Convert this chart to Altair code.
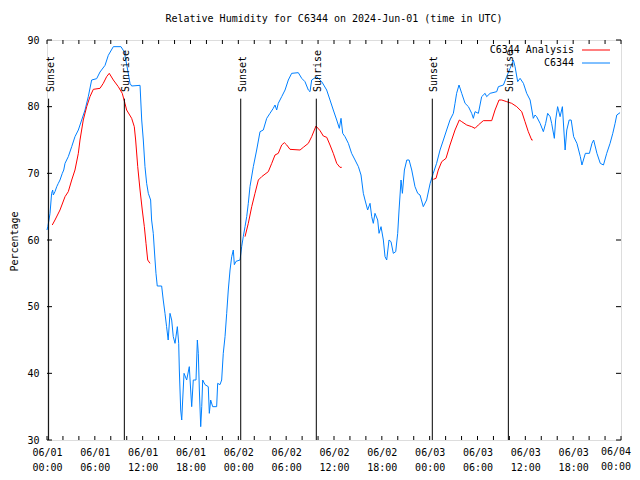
import altair as alt
import pandas as pd

# ---------------- data (hours since 2024-06-01 00:00 UTC) ----------------
obs_hours = [0.0, 0.1, 0.25, 0.38, 0.58, 0.71, 0.79, 1.0, 1.22, 1.42, 1.63, 1.92, 2.1, 2.26, 2.67, 3.1, 3.51, 3.93, 4.35, 4.77,
             5.18, 5.6, 6.23, 6.65, 7.28, 7.69, 8.32, 9.28, 9.7, 10.12, 10.41, 10.62, 11.67, 11.88, 12.08, 12.29, 12.5, 12.71, 13.0, 13.12,
             13.33, 13.55, 13.67, 13.83, 14.38, 14.58, 14.8, 15.0, 15.2, 15.43, 15.64, 15.84, 16.06, 16.35, 16.52, 16.6, 16.77, 16.9, 17.02, 17.19,
             17.52, 17.85, 18.02, 18.15, 18.35, 18.69, 18.86, 18.98, 19.11, 19.28, 19.41, 19.53, 19.82, 20.23, 20.36, 20.53, 20.78, 21.28, 21.41, 21.7,
             21.91, 22.11, 22.33, 22.54, 22.74, 22.96, 23.17, 23.37, 23.5, 23.71, 24.21, 24.42, 24.62, 24.84, 25.05, 25.25, 25.46, 25.88, 26.3, 26.72,
             27.13, 27.56, 27.97, 28.38, 28.6, 28.81, 29.01, 29.44, 29.86, 30.27, 30.69, 31.52, 31.95, 32.36, 32.78, 32.99, 33.2, 33.83, 34.46, 35.08,
             35.5, 35.91, 36.34, 36.67, 36.88, 37.09, 37.38, 37.8, 38.21, 38.64, 39.06, 39.39, 39.68, 39.89, 40.22, 40.52, 40.73, 40.93, 41.14, 41.48,
             41.65, 41.9, 42.19, 42.4, 42.61, 42.9, 43.15, 43.44, 43.74, 43.99, 44.16, 44.41, 44.58, 44.83, 45.13, 45.42, 45.75, 46.16, 46.5, 46.79,
             47.2, 47.62, 48.06, 48.45, 48.87, 49.3, 49.72, 50.13, 50.55, 50.97, 51.18, 51.38, 51.68, 52.02, 52.44, 52.86, 53.27, 53.48, 53.69, 54.11,
             54.52, 54.95, 55.15, 55.58, 56.41, 56.62, 57.25, 57.66, 58.09, 58.5, 58.71, 59.04, 59.34, 59.76, 60.17, 60.6, 61.0, 61.22, 61.42, 61.85,
             62.26, 62.55, 62.8, 63.11, 63.3, 63.64, 63.8, 64.05, 64.36, 64.65, 64.99, 65.2, 65.5, 65.75, 66.06, 66.47, 66.9, 67.1, 67.53, 68.04,
             68.36, 68.57, 68.98, 69.4, 69.8, 70.21, 70.63, 70.97, 71.26, 71.47, 71.88]
obs_rh = [61.5, 62, 63, 64, 67, 67.5, 66.75, 67.25, 68, 68.5, 69, 70, 70.5, 71.5, 72.5, 74, 75.5, 76.5, 78, 79.5,
          81.5, 84, 84.2, 85.2, 86.2, 87.7, 89, 89, 88.2, 85.5, 83.5, 83.1, 83.2, 78, 75, 71, 68.5, 67, 66, 63,
          61, 57, 55, 53.1, 53.1, 51, 49, 47, 45, 49, 48, 45.5, 44.5, 47, 44.5, 40.5, 34.5, 33, 36, 40,
          39, 41, 37.5, 35, 39, 39, 45, 43, 37.5, 32, 35, 39, 38.3, 38, 34, 36, 35, 35, 38.5, 38.3,
          39, 43, 45.5, 49, 52.5, 55.5, 57.5, 58.5, 56.3, 56.8, 57, 59, 60.5, 62, 63.5, 65.5, 68, 71, 73.5, 76.25,
          76.5, 78.25, 79, 79.75, 80.25, 79.5, 80.5, 81.5, 82.5, 84, 85, 85.1, 84.25, 83.75, 82.5, 82.25, 84, 84.5, 83.75, 82.5,
          81, 79.5, 78, 76.75, 78.25, 76, 75.5, 74.5, 73, 72, 71, 69.75, 67, 66, 64.5, 65.5, 63.5, 62.5, 64, 63,
          61, 62, 60, 57.5, 57, 60, 59.75, 58, 58.25, 61, 64.5, 69, 67, 70.5, 72, 72, 70.5, 68, 67, 66.75,
          65, 66, 68.5, 70, 71.5, 73.5, 75, 76.5, 78, 79, 80.5, 82, 83.25, 82, 80.5, 80, 79, 78.25, 79.25, 79,
          81.5, 82, 81.5, 82, 82.25, 83, 83.25, 84.5, 85.75, 87, 86, 83.75, 84.25, 83.5, 82, 81, 78.25, 78.75, 78.5, 77.5,
          76.25, 77.5, 79, 78.5, 77.5, 75.25, 78, 80, 78.5, 80, 73.5, 76.5, 78, 78, 75.5, 74.5, 72.5, 71.25, 73, 73,
          74.5, 75, 73, 71.5, 71.25, 73, 74.5, 76, 77.5, 78.75, 79.1]

ana1_hours = [0.66, 1.0, 1.63, 2.26, 2.67, 3.1, 3.51, 3.93, 4.14, 4.55, 4.98, 5.39, 5.81, 6.65, 7.06, 7.48, 7.81, 8.32, 8.94, 9.44,
              9.78, 9.99, 10.62, 10.95, 11.12, 11.38, 11.67, 11.95, 12.21, 12.42, 12.63, 12.92]
ana1_rh = [62.25, 63, 64.5, 66.5, 67.25, 69, 70.5, 73, 75, 78, 80, 81.5, 82.6, 82.75, 83.5, 84.5, 85, 84, 83, 82,
           80.5, 79.5, 78.25, 77, 75, 71, 67.5, 64.5, 62, 59.5, 57, 56.5]
ana2_hours = [24.84, 25.25, 25.68, 26.09, 26.51, 26.93, 27.76, 28.19, 28.6, 29.01, 29.44, 29.77, 30.07, 30.48, 31.74, 32.15, 32.78, 33.2, 33.74, 34.25,
              34.66, 35.09, 35.5, 35.91, 36.34, 36.75, 36.97]
ana2_rh = [60.5, 62.5, 65, 67, 69, 69.5, 70.25, 71.5, 72.75, 73, 74.25, 74.6, 74.25, 73.6, 73.5, 73.9, 74.5, 75.5, 77.1, 76.4,
           75.6, 75.4, 74.25, 73, 71.5, 70.9, 70.9]
ana3_hours = [48.46, 48.8, 49.08, 49.51, 50.05, 50.55, 51.18, 51.72, 52.02, 52.65, 53.27, 53.69, 54.1, 54.73, 55.78, 56.2, 56.7, 57.04, 57.66, 58.29,
              58.92, 59.55, 59.96, 60.37, 60.8, 60.93]
ana3_rh = [69.1, 69.25, 70.5, 71.75, 72.25, 74.25, 76.5, 78, 77.75, 77.25, 77, 76.75, 77.25, 77.9, 77.9, 79.5, 81, 81, 80.75, 80.5,
           80, 79.25, 77.75, 76.25, 75, 75]

sun_hours = [0.2, 9.7, 24.3, 33.78, 48.33, 57.87]
sun_labels = ["Sunset", "Sunrise", "Sunset", "Sunrise", "Sunset", "Sunrise"]

x_label_hours = [0, 6, 12, 18, 24, 30, 36, 42, 48, 54, 60, 66, 72]
x_minor_hours = list(range(0, 73, 2))
y_ticks = [30, 40, 50, 60, 70, 80, 90]

series_names = ["C6344 Analysis", "C6344"]
series_colors = ["#ff0000", "#0080ff"]

TITLE = "Relative Humidity for C6344 on 2024-Jun-01 (time in UTC)"
FONT = "DejaVu Sans Mono"
W, H = 574, 400

# ---------------- frames ----------------
obs = pd.DataFrame({"h": obs_hours, "rh": obs_rh})
ana = pd.concat([
    pd.DataFrame({"h": ana1_hours, "rh": ana1_rh, "seg": 1}),
    pd.DataFrame({"h": ana2_hours, "rh": ana2_rh, "seg": 2}),
    pd.DataFrame({"h": ana3_hours, "rh": ana3_rh, "seg": 3}),
])
sun = pd.DataFrame({"h": sun_hours, "label": sun_labels})
xt = pd.DataFrame({"h": x_minor_hours})
yt = pd.DataFrame({"rh": y_ticks})
last_lab = pd.DataFrame({"h": [x_label_hours[-1]]})
one = pd.DataFrame({"k": [0]})

xscale = alt.Scale(domain=[0, 72], nice=False, zero=False)
yscale = alt.Scale(domain=[30, 90], nice=False, zero=False)

label_expr = ("['06/0' + (floor(datum.value/24)+1), "
              "((datum.value % 24) < 10 ? '0' : '') + (datum.value % 24) + ':00']")

X = alt.X("h:Q", scale=xscale,
          axis=alt.Axis(values=x_label_hours[:-1], labelExpr=label_expr, title=None, grid=False,
                        ticks=False, tickSize=0, domain=False, labelFont=FONT, labelFontSize=10,
                        labelColor="black", labelPadding=7, labelLineHeight=15, labelFlush=False,
                        labelOverlap=False))
Y = alt.Y("rh:Q", scale=yscale,
          axis=alt.Axis(values=y_ticks, title="Percentage", grid=False, ticks=False, tickSize=0,
                        domain=False, labelFont=FONT, labelFontSize=10, labelColor="black",
                        labelPadding=8, titleFont=FONT, titleFontSize=10, titleFontWeight="normal",
                        titleColor="black", titleAngle=270, titleX=-33, titleY=201,
                        titleAlign="center", titleBaseline="middle"))
Xp = alt.X("h:Q", scale=xscale)
Yp = alt.Y("rh:Q", scale=yscale)

blue = alt.Chart(obs).mark_line(color=series_colors[1], strokeWidth=1).encode(x=X, y=Y)
red = alt.Chart(ana).mark_line(color=series_colors[0], strokeWidth=1).encode(x=Xp, y=Yp, detail="seg:N")

sun_rules = alt.Chart(sun).mark_rule(color="black", strokeWidth=1).encode(
    x=Xp, y=alt.datum(30), y2=alt.datum(81.2))
sun_text = alt.Chart(sun).mark_text(angle=270, align="left", baseline="middle", dy=2, font=FONT,
                                    fontSize=10, color="black").encode(
    x=Xp, y=alt.datum(82.2), text="label:N")

# last x label (kept inside the page)
last_text = alt.Chart(last_lab).transform_calculate(
    lab="['06/0' + (floor(datum.h/24)+1), ((datum.h % 24) < 10 ? '0' : '') + (datum.h % 24) + ':00']"
).mark_text(align="right", baseline="top", dx=10, font=FONT, fontSize=10, color="black",
            lineHeight=15).encode(x=Xp, y=alt.value(H + 7), text="lab:N")

tick_b = alt.Chart(xt).mark_rule(color="black").encode(x=Xp, y=alt.value(H), y2=alt.value(H - 4))
tick_t = alt.Chart(xt).mark_rule(color="black").encode(x=Xp, y=alt.value(0), y2=alt.value(4))
tick_l = alt.Chart(yt).mark_rule(color="black").encode(y=Yp, x=alt.value(0), x2=alt.value(5))
tick_r = alt.Chart(yt).mark_rule(color="black").encode(y=Yp, x=alt.value(W), x2=alt.value(W - 5))

legend_layers = []
for i, (name, col) in enumerate(zip(series_names, series_colors)):
    ypix = 10 + 13 * i
    legend_layers.append(alt.Chart(one).mark_text(align="right", baseline="middle", font=FONT,
                                                  fontSize=10, color="black").encode(
        x=alt.value(527), y=alt.value(ypix), text=alt.value(name)))
    legend_layers.append(alt.Chart(one).mark_rule(color=col, strokeWidth=1).encode(
        x=alt.value(535), x2=alt.value(563), y=alt.value(ypix)))

chart = alt.layer(
    blue, red, sun_rules, sun_text, last_text, tick_b, tick_t, tick_l, tick_r, *legend_layers
).properties(
    width=W, height=H,
    title=alt.TitleParams(TITLE, font=FONT, fontSize=10, fontWeight="normal", color="black",
                          anchor="middle", offset=1, baseline="bottom", frame="group"),
    autosize=alt.AutoSizeParams(type="none"),
    padding={"left": 39, "top": 32, "right": 11, "bottom": 32},
).configure_view(stroke="black", strokeWidth=1).configure(background="white")

chart.save("out.html", embed_options={"renderer": "svg", "actions": False})
